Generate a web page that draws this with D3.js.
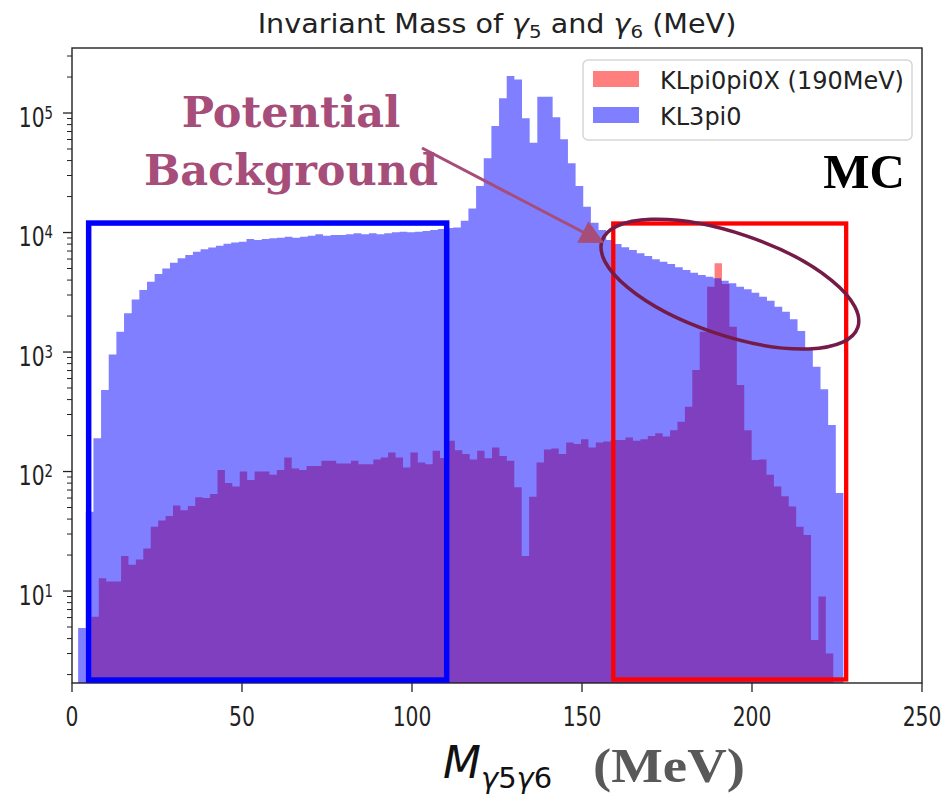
<!DOCTYPE html>
<html>
<head>
<meta charset="utf-8">
<script src="https://cdn.jsdelivr.net/npm/d3@7"></script>
<style>
  body { margin: 0; background: #fff; }
  svg { display: block; }
</style>
</head>
<body>
<div id="chart"></div>
<script>
// Histogram counts, 100 bins per sample
const kl3pi0Counts = [
  4.9, 46, 190, 480, 955, 1480, 2110, 2750, 3300, 3880,
  4500, 5010, 5590, 6080, 6470, 6900, 7230, 7500, 7750, 8050,
  8270, 8380, 8830, 8650, 8830, 8940, 9060, 9230, 9060, 9230,
  9400, 9660, 9400, 9530, 9530, 9660, 9840, 9660, 9840, 9660,
  9840, 10030, 10160, 10030, 10160, 10300, 10500, 10700, 10900, 11000,
  12560, 15900, 24500, 41800, 77800, 132800, 204000, 191000, 90300, 56500,
  137000, 137000, 92000, 60300, 37900, 24500, 16400, 12100, 10500, 8650,
  8010, 7520, 7140, 6700, 6360, 5970, 5700, 5450, 5110, 4850,
  4610, 4410, 4270, 4140, 3950, 3760, 3520, 3350, 3130, 2900,
  2690, 2390, 2170, 1880, 1500, 1050, 754, 488, 245, 66
];
const klpi0pi0xCounts = [
  6.1, 12.8, 12.0, 12.0, 19.6, 16.6, 18.4, 22.7, 34.5, 39,
  42.5, 52, 47.5, 51.5, 61, 60, 65, 103, 80, 75,
  100, 85, 100, 100, 94, 103, 131, 106, 103, 111,
  111, 123, 123, 117, 117, 123, 115, 115, 126, 131,
  144, 131, 108, 144, 119, 115, 149, 130, 181, 151,
  140, 126, 149, 129, 159, 135, 123, 74, 19.6, 61.6,
  119, 153, 156, 140, 175, 170, 186, 159, 175, 178,
  184, 184, 193, 181, 186, 198, 209, 196, 222, 261,
  349, 707, 1480, 3520, 5520, 3700, 1630, 530, 222, 125,
  126, 94, 75, 62, 51, 34.5, 29.4, 3.9, 9.0, 3.0
];
// data range of each sample (MeV), split into equal bins
const kl3pi0Range = [1.8, 226.9];
const klpi0pi0xRange = [5.7, 223.9];

const legendLabels = ["KLpi0pi0X (190MeV)", "KL3pi0"];
const xTickValues = [0, 50, 100, 150, 200, 250];
const yTickExponents = [1, 2, 3, 4, 5];

// annotation boxes, in data units
const lowBox = {x0: 4.9, x1: 110.2, y0: 1.8, y1: 12000};
const highBox = {x0: 159.2, x1: 227.7, y0: 1.82, y1: 11900};
const ellipseCenter = {x: 193.5, y: 3700};

const W = 947, H = 794;
const plot = {left: 72, right: 922, top: 48, bottom: 683};

const svg = d3.select('#chart')
    .append('svg')
    .attr('width', W)
    .attr('height', H);

const x = d3.scaleLinear().domain([0, 250]).range([plot.left, plot.right]);
const y = d3.scaleLog().domain([1.7, 3.5e5]).range([plot.bottom, plot.top]).clamp(true);

// turn counts + range into step points
function steps(counts, range) {
    const n = counts.length, w = (range[1] - range[0]) / n;
    const pts = counts.map((c, i) => ({e: range[0] + i * w, c: c}));
    pts.push({e: range[1], c: counts[n - 1]});
    return pts;
}

const area = d3.area()
    .curve(d3.curveStepAfter)
    .x(d => x(d.e))
    .y0(plot.bottom)
    .y1(d => y(d.c));

const defs = svg.append('defs');
defs.append('clipPath').attr('id', 'clip')
    .append('rect')
    .attr('x', plot.left).attr('y', plot.top)
    .attr('width', plot.right - plot.left).attr('height', plot.bottom - plot.top);

const bars = svg.append('g').attr('clip-path', 'url(#clip)');
bars.append('path')
    .attr('d', area(steps(klpi0pi0xCounts, klpi0pi0xRange)))
    .attr('fill', 'red').attr('fill-opacity', 0.5);
bars.append('path')
    .attr('d', area(steps(kl3pi0Counts, kl3pi0Range)))
    .attr('fill', 'blue').attr('fill-opacity', 0.5);

// frame
svg.append('rect')
    .attr('x', plot.left).attr('y', plot.top)
    .attr('width', plot.right - plot.left).attr('height', plot.bottom - plot.top)
    .attr('fill', 'none').attr('stroke', '#222').attr('stroke-width', 1.4);

// tick labels in the picture are tall and narrow
const tickFont = 26, tickSqueeze = 0.78;

// x ticks
const xt = svg.append('g');
xTickValues.forEach(v => {
    xt.append('line')
        .attr('x1', x(v)).attr('x2', x(v))
        .attr('y1', plot.bottom).attr('y2', plot.bottom + 9)
        .attr('stroke', '#222').attr('stroke-width', 1.3);
    xt.append('text')
        .attr('transform', `translate(${x(v)},${plot.bottom + 43}) scale(${tickSqueeze},1)`)
        .attr('text-anchor', 'middle')
        .attr('font-family', 'DejaVu Sans').attr('font-size', tickFont)
        .attr('fill', '#222')
        .text(v);
});

// y ticks, major + minor (log)
const yt = svg.append('g');
yTickExponents.forEach(k => {
    const v = Math.pow(10, k);
    yt.append('line')
        .attr('x1', plot.left - 9).attr('x2', plot.left)
        .attr('y1', y(v)).attr('y2', y(v))
        .attr('stroke', '#222').attr('stroke-width', 1.3);
    const t = yt.append('text')
        .attr('transform', `translate(${plot.left - 19},${y(v) + 13.5}) scale(${tickSqueeze},1)`)
        .attr('text-anchor', 'end')
        .attr('font-family', 'DejaVu Sans').attr('font-size', tickFont)
        .attr('fill', '#222');
    t.append('tspan').text('10');
    t.append('tspan').attr('dy', -8).attr('font-size', 17).text(k);
});
for (let k = 0; k <= 5; k++) {
    for (let m = 2; m <= 9; m++) {
        const v = m * Math.pow(10, k);
        if (v < y.domain()[0] || v > y.domain()[1]) continue;
        yt.append('line')
            .attr('x1', plot.left - 5).attr('x2', plot.left)
            .attr('y1', y(v)).attr('y2', y(v))
            .attr('stroke', '#222').attr('stroke-width', 1);
    }
}

// title
const title = svg.append('text')
    .attr('transform', `translate(${(plot.left + plot.right) / 2},33) scale(1.1,1)`)
    .attr('text-anchor', 'middle')
    .attr('font-family', 'DejaVu Sans').attr('font-size', 26)
    .attr('fill', '#222');
title.append('tspan').text('Invariant Mass of ');
title.append('tspan').attr('font-style', 'italic').text('γ');
title.append('tspan').attr('font-size', 18).attr('dy', 5).text('5');
title.append('tspan').attr('dy', -5).text(' and ');
title.append('tspan').attr('font-style', 'italic').text('γ');
title.append('tspan').attr('font-size', 18).attr('dy', 5).text('6');
title.append('tspan').attr('dy', -5).text(' (MeV)');

// boxes
svg.append('rect')
    .attr('x', x(lowBox.x0)).attr('y', y(lowBox.y1))
    .attr('width', x(lowBox.x1) - x(lowBox.x0))
    .attr('height', y(lowBox.y0) - y(lowBox.y1))
    .attr('fill', 'none').attr('stroke', '#0000ff').attr('stroke-width', 5.5);
svg.append('rect')
    .attr('x', x(highBox.x0)).attr('y', y(highBox.y1))
    .attr('width', x(highBox.x1) - x(highBox.x0))
    .attr('height', y(highBox.y0) - y(highBox.y1))
    .attr('fill', 'none').attr('stroke', '#ff0000').attr('stroke-width', 4.3);

// legend
const lg = svg.append('g');
lg.append('rect')
    .attr('x', 583).attr('y', 60).attr('width', 329).attr('height', 80).attr('rx', 5)
    .attr('fill', 'white').attr('fill-opacity', 0.8)
    .attr('stroke', '#d6d6d6').attr('stroke-width', 1.5);
[['red', 0], ['blue', 1]].forEach(([c, i]) => {
    lg.append('rect')
        .attr('x', 593).attr('y', 71 + i * 36).attr('width', 46).attr('height', 16)
        .attr('fill', c).attr('fill-opacity', 0.5);
    lg.append('text')
        .attr('x', 660).attr('y', 89 + i * 36)
        .attr('font-family', 'DejaVu Sans').attr('font-size', 24)
        .attr('fill', '#222')
        .text(legendLabels[i]);
});

// annotations
svg.append('ellipse')
    .attr('transform', `translate(${x(ellipseCenter.x)},${y(ellipseCenter.y)}) rotate(18.7)`)
    .attr('rx', 135).attr('ry', 51)
    .attr('fill', 'none').attr('stroke', '#741b47').attr('stroke-width', 3.5);

defs.append('marker')
    .attr('id', 'head').attr('viewBox', '0 0 10 10')
    .attr('refX', 9).attr('refY', 5)
    .attr('markerWidth', 9).attr('markerHeight', 8)
    .attr('markerUnits', 'strokeWidth')
    .attr('orient', 'auto')
    .append('path').attr('d', 'M0,0 L10,5 L0,10 z').attr('fill', '#a64d79');
svg.append('line')
    .attr('x1', 422).attr('y1', 148).attr('x2', 602).attr('y2', 242)
    .attr('stroke', '#a64d79').attr('stroke-width', 3)
    .attr('marker-end', 'url(#head)');

const pb = svg.append('g')
    .attr('font-family', 'DejaVu Serif').attr('font-weight', 'bold')
    .attr('font-size', 43).attr('fill', '#a64d79').attr('text-anchor', 'middle');
pb.append('text').attr('x', 291).attr('y', 127).text('Potential');
pb.append('text').attr('x', 291).attr('y', 185).text('Background');

svg.append('text')
    .attr('x', 905).attr('y', 188).attr('text-anchor', 'end')
    .attr('font-family', 'Liberation Serif').attr('font-weight', 'bold')
    .attr('font-size', 49).attr('fill', '#000')
    .text('MC');

// x axis label
const xl = svg.append('text')
    .attr('x', 443).attr('y', 778)
    .attr('font-family', 'DejaVu Sans').attr('font-size', 44).attr('fill', '#111');
xl.append('tspan').attr('font-style', 'italic').text('M');
xl.append('tspan').attr('font-style', 'italic').attr('font-size', 29).attr('dy', 10).text('γ');
xl.append('tspan').attr('font-size', 29).text('5');
xl.append('tspan').attr('font-style', 'italic').attr('font-size', 29).text('γ');
xl.append('tspan').attr('font-size', 29).text('6');

svg.append('text')
    .attr('transform', 'translate(593,782) scale(1.14,1)')
    .attr('font-family', 'Liberation Serif').attr('font-weight', 'bold')
    .attr('font-size', 48).attr('fill', '#595959')
    .text('(MeV)');
</script>
</body>
</html>
